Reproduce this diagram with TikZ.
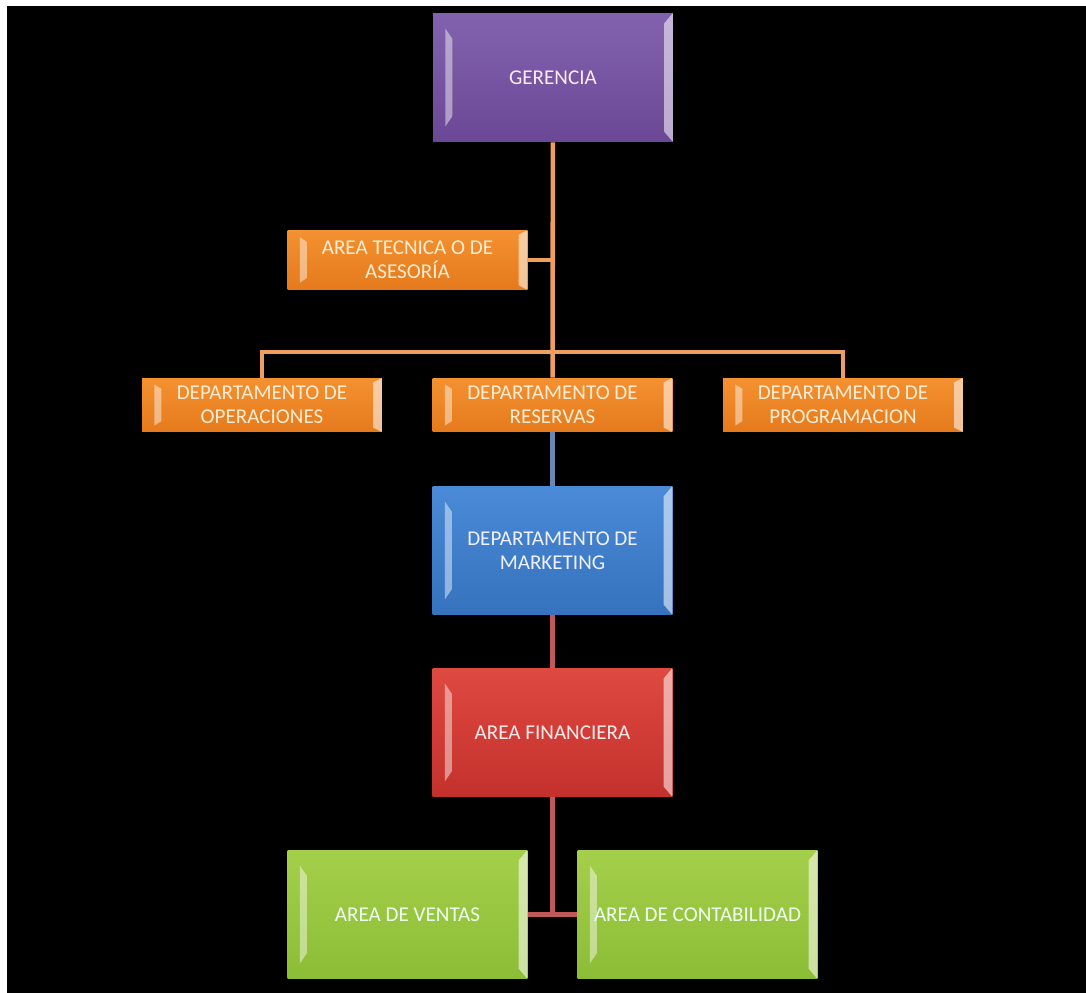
\documentclass[tikz,border=0pt]{standalone}
\usepackage{fontspec}
\setmainfont{Carlito}
\usetikzlibrary{positioning, calc}

\definecolor{purpletop}{HTML}{8262AE}
\definecolor{purplebot}{HTML}{6B4896}
\definecolor{orangetop}{HTML}{F49130}
\definecolor{orangebot}{HTML}{E57A1C}
\definecolor{bluetop}{HTML}{4A8AD6}
\definecolor{bluebot}{HTML}{3672BE}
\definecolor{redtop}{HTML}{DE4A40}
\definecolor{redbot}{HTML}{C4302C}
\definecolor{greentop}{HTML}{A4CF4A}
\definecolor{greenbot}{HTML}{8CBD36}
\definecolor{orangeline}{HTML}{EE9F5E}
\definecolor{blueline}{HTML}{6A87B3}
\definecolor{redline}{HTML}{C1595A}

\tikzset{
  bevel/.style={path picture={
    \path (path picture bounding box.south west) coordinate (bsw)
          (path picture bounding box.north east) coordinate (bne);
    \fill[white, opacity=.45] let \p1=(bsw), \p2=(bne) in
      (\x1+7pt,{\y1+.12*(\y2-\y1)}) -- (\x1+11pt,{\y1+.2*(\y2-\y1)})
      -- (\x1+11pt,{\y2-.2*(\y2-\y1)}) -- (\x1+7pt,{\y2-.12*(\y2-\y1)}) -- cycle;
    \fill[white, opacity=.55] let \p1=(bsw), \p2=(bne) in
      (\x2,\y1) -- (\x2-5pt,{\y1+.08*(\y2-\y1)})
      -- (\x2-5pt,{\y2-.08*(\y2-\y1)}) -- (\x2,\y2) -- cycle;
  }},
  box/.style={rectangle, minimum width=4.8cm, minimum height=2.58cm,
    align=center, inner sep=1pt, font=\fontsize{12}{13.8}\selectfont, bevel},
  smallbox/.style={box, minimum height=1.08cm},
  purplebox/.style={top color=purpletop, bottom color=purplebot, text=purple!8},
  orangebox/.style={top color=orangetop, bottom color=orangebot, text=yellow!15!orange!15},
  bluebox/.style={top color=bluetop, bottom color=bluebot, text=blue!6},
  redbox/.style={top color=redtop, bottom color=redbot, text=red!8},
  greenbox/.style={top color=greentop, bottom color=greenbot, text=green!6},
  link/.style={line width=2.6pt}
}

\begin{document}
\begin{tikzpicture}[x=0.02cm, y=-0.02cm]
    \useasboundingbox (0,0) rectangle (1086,993);
    \fill[white] (0,0) rectangle (1086,993);
    \fill[black] (7,6) rectangle (1086,993);

    % Top
    \node[box, purplebox] (ger) at (553,77.5) {GERENCIA};
    \node[smallbox, orangebox, minimum height=1.2cm] (tec) at (407.5,260)
      {AREA TECNICA O DE\\ASESORÍA};
    % Departments
    \node[smallbox, orangebox] (ope) at (262,405) {DEPARTAMENTO DE\\OPERACIONES};
    \node[smallbox, orangebox] (res) at (552.5,405) {DEPARTAMENTO DE\\RESERVAS};
    \node[smallbox, orangebox] (pro) at (843,405) {DEPARTAMENTO DE\\PROGRAMACION};
    % Lower chain
    \node[box, bluebox] (mkt) at (552.5,550.5) {DEPARTAMENTO DE\\MARKETING};
    \node[box, redbox] (fin) at (552.5,732.5) {AREA FINANCIERA};
    \node[box, greenbox] (ven) at (407.5,914.5) {AREA DE VENTAS};
    \node[box, greenbox] (con) at (697.5,914.5) {AREA DE CONTABILIDAD};

    % Links
    \coordinate (bar) at (552.5,352);
    \draw[link, orangeline] (ger) -- (res);
    \draw[link, orangeline] (tec.east) -- (tec.east -| ger.south);
    \draw[link, orangeline] (ope.north) |- (bar) -| (pro.north);
    \draw[link, blueline] (res) -- (mkt);
    \draw[link, redline] (mkt) -- (fin);
    \draw[link, redline] (fin.south) -- (fin.south |- ven.east);
    \draw[link, redline] (ven.east) -- (con.west);
\end{tikzpicture}
\end{document}
